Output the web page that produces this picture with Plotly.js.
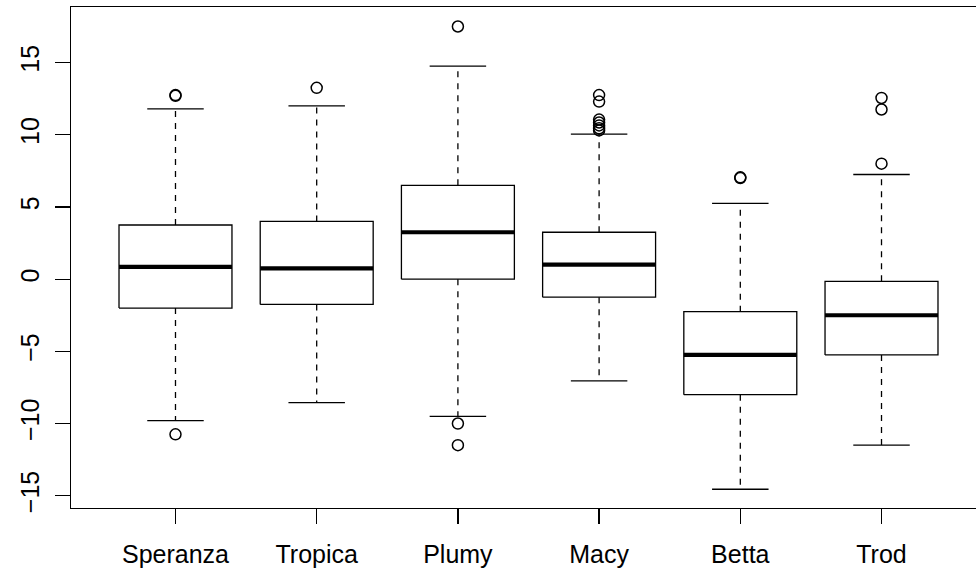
<!DOCTYPE html>
<html>
<head>
<meta charset="utf-8">
<script src="https://cdn.plot.ly/plotly-3.0.1.min.js"></script>
<style>
html, body { margin: 0; padding: 0; overflow: hidden; background: #fff; }
#chart { width: 986px; height: 575px; }
</style>
</head>
<body>
<div id="chart"></div>
<script>
// ---- data ----
var categories = ["Speranza", "Tropica", "Plumy", "Macy", "Betta", "Trod"];
var lowerWhisker = [-9.8, -8.55, -9.5, -7.05, -14.55, -11.5];
var q1Values     = [-2.0, -1.75, 0.0, -1.25, -8.0, -5.25];
var medianValues = [0.85, 0.75, 3.25, 1.0, -5.25, -2.5];
var q3Values     = [3.75, 4.0, 6.5, 3.25, -2.25, -0.15];
var upperWhisker = [11.8, 12.0, 14.75, 10.05, 5.25, 7.25];
var outlierValues = [
  [12.7, 12.75, -10.75],
  [13.25],
  [17.5, -10.0, -11.5],
  [12.75, 12.3, 11.05, 10.85, 10.65, 10.45, 10.3],
  [7.0, 7.05],
  [12.55, 11.75, 8.0]
];
var yTickVals = [-15, -10, -5, 0, 5, 10, 15];
var yTickText = ["\u221215", "\u221210", "\u22125", "0", "5", "10", "15"];

// ---- styling constants ----
var BOX_HALF = 0.4, STAPLE_HALF = 0.2;
var FONT = "Liberation Sans, Arial, Helvetica, sans-serif";
var LW = 1.3;

// ---- build geometry from data ----
var pos = categories.map(function (_, i) { return i + 1; });
var boxX = [], boxY = [], medX = [], medY = [], whX = [], whY = [], stX = [], stY = [], outX = [], outY = [];
pos.forEach(function (p, i) {
  boxX.push(p - BOX_HALF, p + BOX_HALF, p + BOX_HALF, p - BOX_HALF, p - BOX_HALF, null);
  boxY.push(q1Values[i], q1Values[i], q3Values[i], q3Values[i], q1Values[i], null);
  medX.push(p - BOX_HALF, p + BOX_HALF, null);
  medY.push(medianValues[i], medianValues[i], null);
  whX.push(p, p, null, p, p, null);
  whY.push(q3Values[i], upperWhisker[i], null, q1Values[i], lowerWhisker[i], null);
  stX.push(p - STAPLE_HALF, p + STAPLE_HALF, null, p - STAPLE_HALF, p + STAPLE_HALF, null);
  stY.push(upperWhisker[i], upperWhisker[i], null, lowerWhisker[i], lowerWhisker[i], null);
  outlierValues[i].forEach(function (v) { outX.push(p); outY.push(v); });
});

var traces = [
  { x: whX, y: whY, mode: "lines", line: { color: "#000", width: LW, dash: "6px,6px" }, hoverinfo: "skip" },
  { x: stX, y: stY, mode: "lines", line: { color: "#000", width: LW }, hoverinfo: "skip" },
  { x: boxX, y: boxY, mode: "lines", fill: "toself", fillcolor: "rgba(255,255,255,0)", line: { color: "#000", width: LW }, hoverinfo: "skip" },
  { x: medX, y: medY, mode: "lines", line: { color: "#000", width: 4.2 }, hoverinfo: "skip" },
  { x: outX, y: outY, mode: "markers", marker: { symbol: "circle-open", size: 11, color: "#000", line: { width: 1.5, color: "#000" } }, hoverinfo: "y" }
];

var layout = {
  width: 986, height: 575,
  margin: { l: 71, r: 0, t: 7, b: 67 },
  paper_bgcolor: "#fff", plot_bgcolor: "#fff",
  showlegend: false,
  font: { family: FONT, size: 25, color: "#000" },
  xaxis: {
    range: [0.26, 6.74], tickvals: pos, ticktext: categories,
    showgrid: false, zeroline: false,
    showline: true, mirror: true, linecolor: "#000", linewidth: LW,
    ticks: "outside", ticklen: 15, tickwidth: LW, tickcolor: "#000",
    tickfont: { family: FONT, size: 25, color: "#000" },
    ticklabelstandoff: 9
  },
  yaxis: {
    range: [-15.85, 18.85], tickvals: yTickVals, ticktext: yTickText,
    tickangle: -90,
    showgrid: false, zeroline: false,
    showline: true, mirror: true, linecolor: "#000", linewidth: LW,
    ticks: "outside", ticklen: 15, tickwidth: LW, tickcolor: "#000",
    tickfont: { family: FONT, size: 25, color: "#000" },
    ticklabelstandoff: 6
  }
};

Plotly.newPlot("chart", traces, layout, { displayModeBar: false, staticPlot: true });
</script>
</body>
</html>
